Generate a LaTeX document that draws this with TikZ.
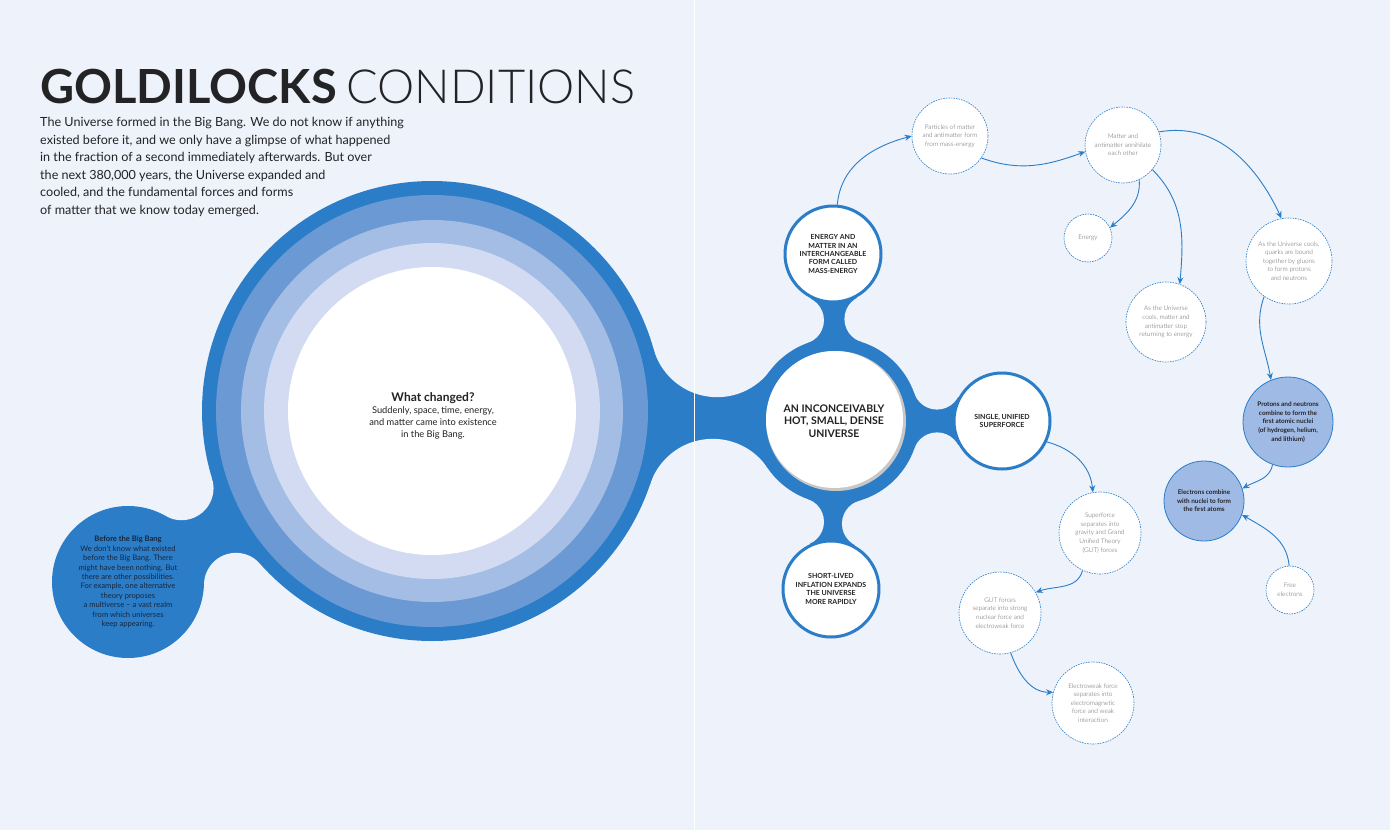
\documentclass[tikz,border=0pt]{standalone}
\usepackage{fontspec}
\setmainfont{Lato}
\IfFontExistsTF{Lato Light}{\newfontfamily\lightfont{Lato Light}}{\newfontfamily\lightfont{Lato}}
\usetikzlibrary{arrows.meta,intersections}

\definecolor{pagebg}{RGB}{237,242,251}
\definecolor{dblue}{RGB}{43,125,200}
\definecolor{mblue}{RGB}{106,153,212}
\definecolor{lblue}{RGB}{163,189,229}
\definecolor{pblue}{RGB}{210,219,241}
\definecolor{keyfill}{RGB}{160,186,230}
\definecolor{smalltxt}{RGB}{95,95,98}
\definecolor{darktxt}{RGB}{35,35,38}
\definecolor{navytxt}{RGB}{25,38,60}

% blue stalk between two round shapes: centre, radius, centre, radius, fillet radius
\newcommand\neck[5]{%
  \path[name path=neckA] (#1) circle[radius=#2+#5];
  \path[name path=neckB] (#3) circle[radius=#4+#5];
  \path[name intersections={of=neckA and neckB,by={nf1,nf2}}];
  \fill[dblue] (#1) -- (nf1) -- (#3) -- (nf2) -- cycle;
  \fill[pagebg] (nf1) circle[radius=#5] (nf2) circle[radius=#5];
}

\tikzset{
  bignode/.style={circle,draw=dblue,line width=3pt,fill=white,minimum size=96pt,
    inner sep=0pt,align=center,text=darktxt,font=\fontsize{7}{8.4}\selectfont\bfseries},
  stepnode/.style={circle,draw=dblue,line width=0.6pt,dash pattern=on 1.6pt off 1pt,
    fill=white,inner sep=0pt,align=center,text=smalltxt,font=\lightfont\fontsize{6.4}{8.6}\selectfont},
  keynode/.style={circle,draw=dblue,line width=0.8pt,fill=keyfill,inner sep=0pt,
    align=center,text=darktxt,font=\fontsize{6.4}{8.6}\selectfont\bfseries},
  flow/.style={draw=dblue,line width=0.9pt,-{Stealth[length=7pt,width=6pt]}},
}

\begin{document}
\begin{tikzpicture}[x=1pt,y=-1pt]
\useasboundingbox (0,0) rectangle (1390,830);
\fill[pagebg] (0,0) rectangle (1390,830);

\coordinate (bigc) at (432,411);
\coordinate (befc) at (128,582);
\coordinate (cenc) at (836,421);
\coordinate (topc) at (833,254);
\coordinate (rgtc) at (1002,421);
\coordinate (botc) at (831,589);

% stalks
\neck{bigc}{230}{cenc}{83}{66}
\neck{bigc}{230}{befc}{76}{32}
\neck{cenc}{83}{topc}{50}{24}
\neck{cenc}{83}{rgtc}{50}{24}
\neck{cenc}{83}{botc}{50}{24}

% big rings
\fill[dblue] (bigc) circle[radius=230];
\fill[mblue] (bigc) circle[radius=216];
\fill[lblue] (bigc) circle[radius=191];
\fill[pblue] (bigc) circle[radius=168];
\fill[white] (bigc) circle[radius=144];
\fill[dblue] (befc) circle[radius=76];

% centre
\fill[dblue] (cenc) circle[radius=83];
\fill[black!22] (cenc) circle[radius=70];
\fill[white] ([shift={(-1.5,-1.5)}]cenc) circle[radius=68.5];

\draw[white,line width=1pt] (694,0) -- (694,830);

% title and intro
\node[anchor=base west,inner sep=0pt,text=darktxt,font=\fontsize{47}{52}\selectfont] (title) at (40,103)
  {\textbf{GOLDILOCKS}\hspace{0.2em}{\lightfont CONDITIONS}};
\node[anchor=north west,inner sep=0pt,align=left,text=darktxt,font=\fontsize{12.6}{17.6}\selectfont] (intro) at (40,117)
  {The Universe formed in the Big Bang. We do not know if anything\\
   existed before it, and we only have a glimpse of what happened\\
   in the fraction of a second immediately afterwards. But over\\
   the next 380,000 years, the Universe expanded and\\
   cooled, and the fundamental forces and forms\\
   of matter that we know today emerged.};

\node[align=center,text=navytxt,font=\fontsize{7.6}{9.4}\selectfont] (before) at (befc)
  {\textbf{Before the Big Bang}\\
   We don't know what existed\\
   before the Big Bang. There\\
   might have been nothing. But\\
   there are other possibilities.\\
   For example, one alternative\\
   theory proposes\\
   a multiverse -- a vast realm\\
   from which universes\\
   keep appearing.};

\node[align=center,text=darktxt,font=\fontsize{9.3}{12}\selectfont] (changed) at (433,416)
  {{\fontsize{12}{12}\selectfont\bfseries What changed?}\\
   Suddenly, space, time, energy,\\
   and matter came into existence\\
   in the Big Bang.};

\node[align=center,text=darktxt,font=\fontsize{10.5}{12.6}\selectfont\bfseries] (universe) at (834,421)
  {AN INCONCEIVABLY\\HOT, SMALL, DENSE\\UNIVERSE};

\node[bignode] (mass) at (topc) {ENERGY AND\\MATTER IN AN\\INTERCHANGEABLE\\FORM CALLED\\MASS-ENERGY};
\node[bignode] (single) at (rgtc) {SINGLE, UNIFIED\\SUPERFORCE};
\node[bignode] (inflation) at (botc) {SHORT-LIVED\\INFLATION EXPANDS\\THE UNIVERSE\\MORE RAPIDLY};

% right-hand chain
\node[stepnode,minimum size=76pt] (particles) at (950,136) {Particles of matter\\and antimatter form\\from mass-energy};
\node[stepnode,minimum size=76pt] (annihilate) at (1123,145) {Matter and\\antimatter annihilate\\each other};
\node[stepnode,minimum size=48pt] (energy) at (1088,238) {Energy};
\node[stepnode,minimum size=80pt] (stop) at (1166,322) {As the Universe\\cools, matter and\\antimatter stop\\returning to energy};
\node[stepnode,minimum size=86pt] (quarks) at (1289,261) {As the Universe cools,\\quarks are bound\\together by gluons\\to form protons\\and neutrons};
\node[keynode,minimum size=90pt] (nuclei) at (1288,422) {Protons and neutrons\\combine to form the\\first atomic nuclei\\(of hydrogen, helium,\\and lithium)};
\node[keynode,minimum size=80pt] (atoms) at (1204,501) {Electrons combine\\with nuclei to form\\the first atoms};
\node[stepnode,minimum size=48pt] (free) at (1290,590) {Free\\electrons};
\node[stepnode,minimum size=82pt] (superforce) at (1100,533) {Superforce\\separates into\\gravity and Grand\\Unified Theory\\(GUT) forces};
\node[stepnode,minimum size=82pt] (gut) at (1000,613) {GUT forces\\separate into strong\\nuclear force and\\electroweak force};
\node[stepnode,minimum size=82pt] (electroweak) at (1093,703) {Electroweak force\\separates into\\electromagnetic\\force and weak\\interaction};

\draw[flow] (mass.85) to[out=85,in=195] (particles.180);
\draw[flow] (particles.-35) to[out=-20,in=200] (annihilate.190);
\draw[flow] (annihilate.20) to[out=10,in=115] (quarks.100);
\draw[flow] (annihilate.-65) to[out=-85,in=40] (energy.25);
\draw[flow] (annihilate.-40) to[out=-45,in=85] (stop.70);
\draw[flow] (quarks.-125) to[out=-110,in=100] (nuclei.112);
\draw[flow] (nuclei.-110) to[out=-100,in=30] (atoms.18);
\draw[flow] (free.92) to[out=95,in=-30] (atoms.-20);
\draw[flow] (single.-25) to[out=-15,in=95] (superforce.100);
\draw[flow] (superforce.-115) to[out=-105,in=20] (gut.30);
\draw[flow] (gut.-75) to[out=-70,in=180] (electroweak.165);
\end{tikzpicture}
\end{document}
